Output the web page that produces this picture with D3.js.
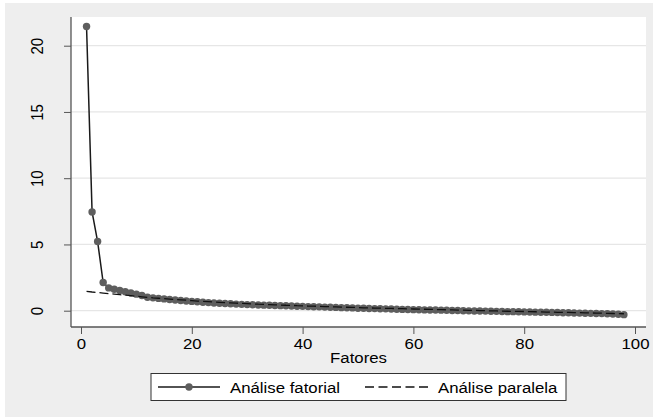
<!DOCTYPE html>
<html><head><meta charset="utf-8">
<script src="https://cdn.jsdelivr.net/npm/d3@7"></script>
<style>
html,body{margin:0;padding:0;background:#fff;}
svg{display:block;font-family:"Liberation Sans",Arial,sans-serif;}
</style></head>
<body>
<svg id="chart" width="653" height="417"></svg>
<script>
const factors = d3.range(1, 99);
const analiseFatorial = [21.45,7.45,5.22,2.13,1.72,1.62,1.52,1.43,1.34,1.25,
1.15,1.02,0.97,0.93,0.89,0.85,0.81,0.77,0.73,0.70,
0.67,0.64,0.61,0.58,0.56,0.54,0.52,0.50,0.48,0.46,
0.45,0.43,0.42,0.41,0.39,0.38,0.37,0.35,0.34,0.33,
0.31,0.30,0.29,0.27,0.26,0.25,0.23,0.22,0.21,0.19,
0.18,0.17,0.16,0.15,0.14,0.13,0.11,0.10,0.09,0.08,
0.07,0.06,0.05,0.05,0.04,0.03,0.02,0.01,0.00,-0.01,
-0.02,-0.02,-0.03,-0.04,-0.05,-0.06,-0.07,-0.07,-0.08,-0.09,
-0.10,-0.11,-0.12,-0.12,-0.13,-0.14,-0.15,-0.16,-0.17,-0.18,
-0.19,-0.20,-0.21,-0.22,-0.23,-0.25,-0.27,-0.30];
const analiseParalela = [1.46,1.41,1.37,1.33,1.29,1.25,1.21,1.17,1.13,1.09,
1.05,1.01,0.97,0.94,0.91,0.88,0.85,0.82,0.79,0.76,
0.73,0.70,0.68,0.65,0.63,0.61,0.59,0.57,0.55,0.53,
0.51,0.49,0.48,0.46,0.44,0.43,0.41,0.40,0.38,0.37,
0.35,0.34,0.33,0.31,0.30,0.29,0.27,0.26,0.25,0.24,
0.22,0.21,0.20,0.19,0.18,0.17,0.16,0.15,0.14,0.13,
0.12,0.11,0.10,0.09,0.08,0.07,0.06,0.05,0.04,0.03,
0.02,0.01,0.00,-0.01,-0.02,-0.03,-0.04,-0.05,-0.05,-0.06,
-0.07,-0.08,-0.09,-0.10,-0.11,-0.12,-0.12,-0.13,-0.14,-0.15,
-0.16,-0.17,-0.18,-0.19,-0.20,-0.21,-0.22,-0.23];
const xTicks = [0,20,40,60,80,100];
const yTicks = [0,5,10,15,20];
const xLabel = "Fatores";
const seriesNames = ["Análise fatorial","Análise paralela"];

const svg = d3.select("#chart");
const plot = {left:71, right:646, top:17, bottom:327};
const SX = 1.12;

svg.append("rect").attr("x",5).attr("y",3).attr("width",648).attr("height",414).attr("fill","#eeeeee");
svg.append("rect").attr("x",plot.left).attr("y",plot.top).attr("width",plot.right-plot.left).attr("height",plot.bottom-plot.top).attr("fill","#ffffff");

const x = d3.scaleLinear().domain([0,100]).range([81,635]);
const y = d3.scaleLinear().domain([0,20]).range([310.7,45.7]);

// gridlines
svg.append("g").selectAll("line").data(yTicks).join("line")
  .attr("x1",plot.left).attr("x2",plot.right)
  .attr("y1",d=>y(d)).attr("y2",d=>y(d))
  .attr("stroke","#e6e6e6").attr("stroke-width",1.2);

// axes
const yAxis = d3.axisLeft(y).tickValues(yTicks).tickSize(7).tickPadding(4);
const gy = svg.append("g").attr("transform",`translate(${plot.left},0)`).call(yAxis);
gy.select(".domain").remove();
gy.selectAll(".tick line").attr("stroke","#555");
gy.selectAll(".tick text").attr("font-size",15).attr("fill","#000")
  .attr("x",null).attr("dy",null)
  .attr("text-anchor","middle")
  .attr("transform","translate(-28,0) rotate(-90) scale(1,1.12)");
svg.append("line").attr("x1",plot.left).attr("x2",plot.left).attr("y1",plot.top).attr("y2",plot.bottom).attr("stroke","#555").attr("stroke-width",1.3);

const xAxis = d3.axisBottom(x).tickValues(xTicks).tickSize(7).tickPadding(6);
const gx = svg.append("g").attr("transform",`translate(0,${plot.bottom})`).call(xAxis);
gx.select(".domain").remove();
gx.selectAll(".tick line").attr("stroke","#555");
gx.selectAll(".tick text").attr("font-size",15).attr("fill","#000").attr("dy",null).attr("y",null)
  .attr("transform",`translate(0,22) scale(${SX},1)`);
svg.append("line").attr("x1",plot.left).attr("x2",plot.right).attr("y1",plot.bottom).attr("y2",plot.bottom).attr("stroke","#555").attr("stroke-width",1.3);

svg.append("text").attr("transform",`translate(${(plot.left+plot.right)/2},363) scale(${SX},1)`).attr("text-anchor","middle")
  .attr("font-size",15).attr("fill","#000").text(xLabel);

// series
const line = d3.line().x((d,i)=>x(factors[i])).y(d=>y(d));
svg.append("path").datum(analiseFatorial).attr("d",line).attr("fill","none").attr("stroke","#1a1a1a").attr("stroke-width",1.5);
svg.append("g").selectAll("circle").data(analiseFatorial).join("circle")
  .attr("cx",(d,i)=>x(factors[i])).attr("cy",d=>y(d)).attr("r",3.7).attr("fill","#5e5e5e");
svg.append("path").datum(analiseParalela).attr("d",line).attr("fill","none").attr("stroke","#111").attr("stroke-width",1.3).attr("stroke-dasharray","9,4");

// legend
const lg = svg.append("g");
lg.append("rect").attr("x",151).attr("y",373.5).attr("width",415).attr("height",27).attr("fill","#fff").attr("stroke","#333").attr("stroke-width",1);
lg.append("line").attr("x1",158).attr("x2",220).attr("y1",387).attr("y2",387).attr("stroke","#1a1a1a").attr("stroke-width",1.5);
lg.append("circle").attr("cx",189).attr("cy",387).attr("r",3.7).attr("fill","#5e5e5e");
lg.append("text").attr("transform",`translate(230,393) scale(${SX},1)`).attr("font-size",15).attr("fill","#000").text(seriesNames[0]);
lg.append("line").attr("x1",365).attr("x2",428).attr("y1",387).attr("y2",387).attr("stroke","#111").attr("stroke-width",1.3).attr("stroke-dasharray","9,4.5");
lg.append("text").attr("transform",`translate(438,393) scale(${SX},1)`).attr("font-size",15).attr("fill","#000").text(seriesNames[1]);
</script>
</body></html>
